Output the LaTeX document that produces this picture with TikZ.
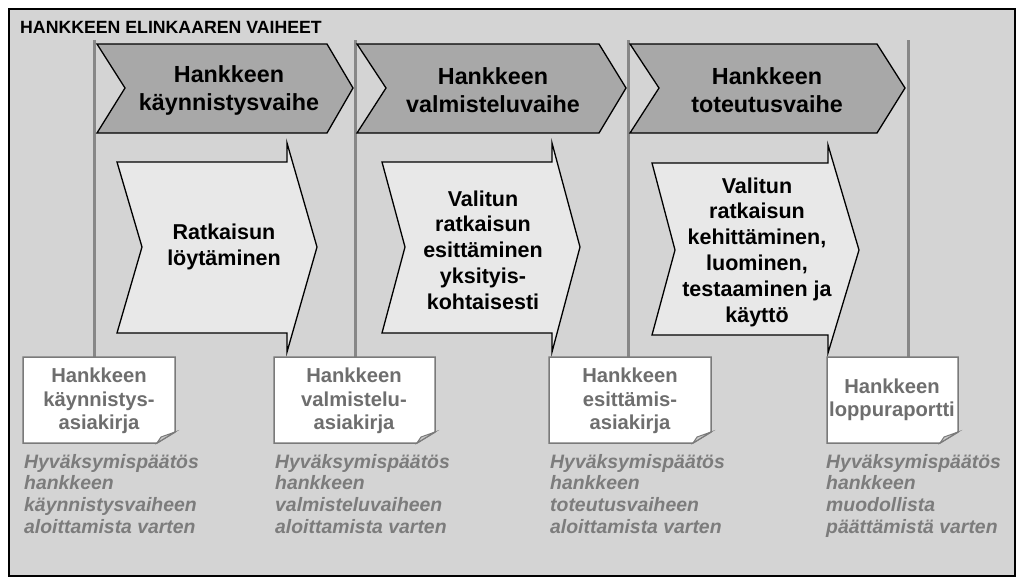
\documentclass[tikz,border=0pt]{standalone}
\usepackage{fontspec}
\setmainfont{Liberation Sans}
\begin{document}
\begin{tikzpicture}[x=1pt,y=-1pt,
  frame/.style={draw=black,line width=2pt,fill=framegray},
  phase/.style={draw=black,line width=1.3pt,fill=phasegray,line join=miter},
  task/.style={draw=black,line width=1.3pt,fill=taskgray,line join=miter},
  doc/.style={draw=docborder,line width=1.5pt,fill=white},
  fold/.style={draw=docborder,line width=1pt,fill=foldgray},
  gate/.style={draw=gatelinegray,line width=3pt},
  phasetext/.style={align=center,font=\bfseries\fontsize{23.3}{28}\selectfont,text=black,inner sep=0pt},
  tasktext/.style={align=center,font=\bfseries\fontsize{21.5}{25.8}\selectfont,text=black,inner sep=0pt},
  doctext/.style={align=center,font=\bfseries\fontsize{20.2}{23.3}\selectfont,text=doctextgray,inner sep=0pt},
  decision/.style={align=left,anchor=north west,font=\bfseries\itshape\fontsize{19.4}{21.7}\selectfont,text=labelgray,inner sep=0pt},
]
\definecolor{framegray}{HTML}{D4D4D4}
\definecolor{phasegray}{HTML}{A8A8A8}
\definecolor{taskgray}{HTML}{E8E8E8}
\definecolor{docborder}{HTML}{7A7A7A}
\definecolor{foldgray}{HTML}{C8C8C8}
\definecolor{gatelinegray}{HTML}{878787}
\definecolor{doctextgray}{HTML}{6E6E6E}
\definecolor{labelgray}{HTML}{7C7C7C}

\useasboundingbox (0,0) rectangle (1024,587);
\fill[white] (0,0) rectangle (1024,587);
\draw[frame] (9,9) rectangle (1015,576);
\node[anchor=base west,font=\bfseries\fontsize{17.7}{19}\selectfont,inner sep=0pt] (title) at (20,33) {HANKKEEN ELINKAAREN VAIHEET};

% gate lines
\coordinate (g1t) at (94,40);  \coordinate (g1b) at (94,357);
\coordinate (g2t) at (355,40); \coordinate (g2b) at (355,357);
\coordinate (g3t) at (628,40); \coordinate (g3b) at (628,357);
\coordinate (g4t) at (908,40); \coordinate (g4b) at (908,357);
\draw[gate] (g1t) -- (g1b);
\draw[gate] (g2t) -- (g2b);
\draw[gate] (g3t) -- (g3b);
\draw[gate] (g4t) -- (g4b);

% phase chevrons
\draw[phase] (97,44) -- (327,44) -- (353,88) -- (327,133) -- (97,133) -- (125,88) -- cycle;
\draw[phase] (357,44) -- (599,44) -- (626,88) -- (599,133) -- (357,133) -- (386,88) -- cycle;
\draw[phase] (630,44) -- (877,44) -- (905,88) -- (877,133) -- (630,133) -- (659,88) -- cycle;
\node[phasetext] (p1) at (229,90) {Hankkeen\\käynnistysvaihe};
\node[phasetext] (p2) at (493,90) {Hankkeen\\valmisteluvaihe};
\node[phasetext] (p3) at (767,90) {Hankkeen\\toteutusvaihe};

% task arrows
\draw[task] (117,162) -- (287,162) -- (287,143) -- (317,247) -- (287,352) -- (287,333) -- (117,333) -- (142,247) -- cycle;
\draw[task] (382,162) -- (552,162) -- (552,143) -- (580,247) -- (552,352) -- (552,333) -- (382,333) -- (405,247) -- cycle;
\draw[task] (652,163) -- (828,163) -- (828,145) -- (859,250) -- (828,353) -- (828,335) -- (652,335) -- (675,250) -- cycle;
\node[tasktext] (t1) at (224,247) {Ratkaisun\\löytäminen};
\node[tasktext] (t2) at (483,250) {Valitun\\ratkaisun\\esittäminen\\yksityis-\\kohtaisesti};
\node[tasktext] (t3) at (757,252) {Valitun\\ratkaisun\\kehittäminen,\\luominen,\\testaaminen ja\\käyttö};

% documents
\newcommand{\docshape}[4]{%
  \draw[doc] (#1,#2) -- (#3,#2) -- (#3,#4-11) -- (#3-18,#4) -- (#1,#4) -- cycle;
  \draw[fold] (#3,#4-11) -- (#3-14,#4-6) -- (#3-18,#4) -- cycle;}
\docshape{23}{357}{175}{443}
\docshape{274}{357}{435}{443}
\docshape{549}{357}{711}{443}
\docshape{827}{357}{958}{443}
\node[doctext] (d1) at (99,401) {Hankkeen\\käynnistys-\\asiakirja};
\node[doctext] (d2) at (354,401) {Hankkeen\\valmistelu-\\asiakirja};
\node[doctext] (d3) at (630,401) {Hankkeen\\esittämis-\\asiakirja};
\node[doctext] (d4) at (892,400) {Hankkeen\\loppuraportti};

% decisions
\node[decision] (h1) at (24,454) {Hyväksymispäätös\\hankkeen\\käynnistysvaiheen\\aloittamista varten};
\node[decision] (h2) at (275,454) {Hyväksymispäätös\\hankkeen\\valmisteluvaiheen\\aloittamista varten};
\node[decision] (h3) at (550,454) {Hyväksymispäätös\\hankkeen\\toteutusvaiheen\\aloittamista varten};
\node[decision] (h4) at (826,454) {Hyväksymispäätös\\hankkeen\\muodollista\\päättämistä varten};
\end{tikzpicture}
\end{document}
